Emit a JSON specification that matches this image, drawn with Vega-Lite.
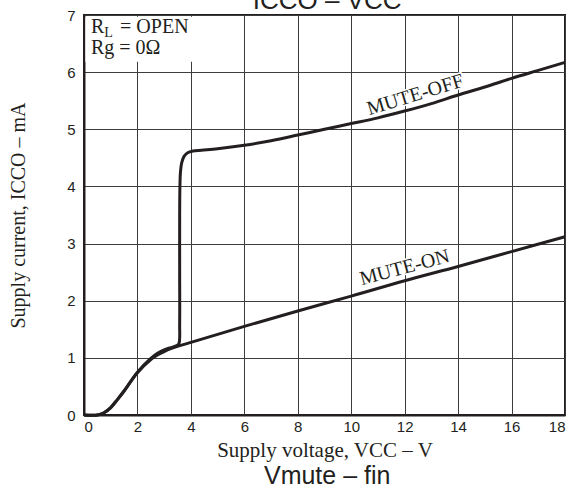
{
  "$schema": "https://vega.github.io/schema/vega-lite/v6.json",
  "autosize": {"type": "none"},
  "width": 481,
  "height": 400,
  "padding": {"left": 84, "top": 15, "right": 20, "bottom": 78},
  "background": "white",
  "config": {
    "view": {"stroke": "#231f20", "strokeWidth": 2},
    "axis": {
      "grid": true,
      "gridColor": "#3c3c3c",
      "gridOpacity": 1,
      "gridWidth": 1,
      "domain": true,
      "domainColor": "#231f20",
      "domainWidth": 2,
      "ticks": false,
      "format": "d",
      "labelFont": "Liberation Sans",
      "labelFontSize": 15,
      "labelColor": "#231f20",
      "titleFont": "Liberation Serif",
      "titleFontWeight": "normal",
      "titleColor": "#231f20"
    }
  },
  "datasets": {
    "curves": [
      {"series": "MUTE-ON", "o": 1, "v": 0, "i": 0},
      {"series": "MUTE-ON", "o": 2, "v": 0.5, "i": 0},
      {"series": "MUTE-ON", "o": 3, "v": 0.75, "i": 0.04},
      {"series": "MUTE-ON", "o": 4, "v": 1, "i": 0.13},
      {"series": "MUTE-ON", "o": 5, "v": 1.25, "i": 0.27},
      {"series": "MUTE-ON", "o": 6, "v": 1.5, "i": 0.42},
      {"series": "MUTE-ON", "o": 7, "v": 2, "i": 0.74},
      {"series": "MUTE-ON", "o": 8, "v": 2.5, "i": 0.97},
      {"series": "MUTE-ON", "o": 9, "v": 2.75, "i": 1.05},
      {"series": "MUTE-ON", "o": 10, "v": 3, "i": 1.11},
      {"series": "MUTE-ON", "o": 11, "v": 3.25, "i": 1.16},
      {"series": "MUTE-ON", "o": 12, "v": 3.5, "i": 1.2},
      {"series": "MUTE-ON", "o": 13, "v": 4, "i": 1.27},
      {"series": "MUTE-ON", "o": 14, "v": 6, "i": 1.55},
      {"series": "MUTE-ON", "o": 15, "v": 8, "i": 1.82},
      {"series": "MUTE-ON", "o": 16, "v": 10, "i": 2.08},
      {"series": "MUTE-ON", "o": 17, "v": 12, "i": 2.35},
      {"series": "MUTE-ON", "o": 18, "v": 14, "i": 2.6},
      {"series": "MUTE-ON", "o": 19, "v": 16, "i": 2.86},
      {"series": "MUTE-ON", "o": 20, "v": 18, "i": 3.12},
      {"series": "MUTE-OFF", "o": 1, "v": 0, "i": 0},
      {"series": "MUTE-OFF", "o": 2, "v": 0.5, "i": 0},
      {"series": "MUTE-OFF", "o": 3, "v": 0.75, "i": 0.04},
      {"series": "MUTE-OFF", "o": 4, "v": 1, "i": 0.13},
      {"series": "MUTE-OFF", "o": 5, "v": 1.25, "i": 0.27},
      {"series": "MUTE-OFF", "o": 6, "v": 1.5, "i": 0.42},
      {"series": "MUTE-OFF", "o": 7, "v": 2, "i": 0.75},
      {"series": "MUTE-OFF", "o": 8, "v": 2.5, "i": 0.99},
      {"series": "MUTE-OFF", "o": 9, "v": 2.75, "i": 1.08},
      {"series": "MUTE-OFF", "o": 10, "v": 3, "i": 1.14},
      {"series": "MUTE-OFF", "o": 11, "v": 3.25, "i": 1.18},
      {"series": "MUTE-OFF", "o": 12, "v": 3.5, "i": 1.22},
      {"series": "MUTE-OFF", "o": 13, "v": 3.56, "i": 1.26},
      {"series": "MUTE-OFF", "o": 14, "v": 3.58, "i": 1.6},
      {"series": "MUTE-OFF", "o": 15, "v": 3.58, "i": 2.5},
      {"series": "MUTE-OFF", "o": 16, "v": 3.58, "i": 3.5},
      {"series": "MUTE-OFF", "o": 17, "v": 3.59, "i": 4.0},
      {"series": "MUTE-OFF", "o": 18, "v": 3.61, "i": 4.25},
      {"series": "MUTE-OFF", "o": 19, "v": 3.66, "i": 4.42},
      {"series": "MUTE-OFF", "o": 20, "v": 3.75, "i": 4.53},
      {"series": "MUTE-OFF", "o": 21, "v": 3.88, "i": 4.59},
      {"series": "MUTE-OFF", "o": 22, "v": 4.08, "i": 4.62},
      {"series": "MUTE-OFF", "o": 23, "v": 4.4, "i": 4.635},
      {"series": "MUTE-OFF", "o": 24, "v": 5, "i": 4.66},
      {"series": "MUTE-OFF", "o": 25, "v": 6, "i": 4.72},
      {"series": "MUTE-OFF", "o": 26, "v": 7, "i": 4.8},
      {"series": "MUTE-OFF", "o": 27, "v": 8, "i": 4.9},
      {"series": "MUTE-OFF", "o": 28, "v": 9, "i": 5.0},
      {"series": "MUTE-OFF", "o": 29, "v": 10, "i": 5.1},
      {"series": "MUTE-OFF", "o": 30, "v": 11, "i": 5.2},
      {"series": "MUTE-OFF", "o": 31, "v": 12, "i": 5.32},
      {"series": "MUTE-OFF", "o": 32, "v": 13, "i": 5.45},
      {"series": "MUTE-OFF", "o": 33, "v": 14, "i": 5.6},
      {"series": "MUTE-OFF", "o": 34, "v": 15, "i": 5.74},
      {"series": "MUTE-OFF", "o": 35, "v": 16, "i": 5.89},
      {"series": "MUTE-OFF", "o": 36, "v": 17, "i": 6.03},
      {"series": "MUTE-OFF", "o": 37, "v": 18, "i": 6.17}
    ],
    "labels": [
      {"label": "MUTE-OFF", "v": 12.4, "i": 5.6},
      {"label": "MUTE-ON", "v": 12.0, "i": 2.58}
    ],
    "one": [{}]
  },
  "layer": [
    {
      "data": {"name": "one"},
      "mark": {"type": "rect", "color": "white"},
      "encoding": {
        "x": {"datum": 0.05, "type": "quantitative", "scale": {"domain": [0, 18], "nice": false}},
        "x2": {"datum": 4.2},
        "y": {"datum": 6.18, "type": "quantitative", "scale": {"domain": [0, 7], "nice": false}},
        "y2": {"datum": 6.97}
      }
    },
    {
      "data": {"name": "curves"},
      "mark": {"type": "line", "color": "#231f20", "strokeWidth": 3, "interpolate": "catmull-rom", "clip": false},
      "encoding": {
        "x": {
          "field": "v", "type": "quantitative",
          "scale": {"domain": [0, 18], "nice": false, "zero": false},
          "axis": {"values": [0, 2, 4, 6, 8, 10, 12, 14, 16, 18], "labelPadding": 4, "title": "Supply voltage, VCC  –  V", "titleFontSize": 21, "titlePadding": 5}
        },
        "y": {
          "field": "i", "type": "quantitative",
          "scale": {"domain": [0, 7], "nice": false},
          "axis": {"values": [0, 1, 2, 3, 4, 5, 6, 7], "labelPadding": 9, "title": "Supply current, ICCO  –  mA", "titleFontSize": 20, "titlePadding": 38}
        },
        "detail": {"field": "series"},
        "order": {"field": "o", "type": "quantitative"}
      }
    },
    {
      "data": {"name": "labels"},
      "transform": [{"filter": "datum.label === 'MUTE-OFF'"}],
      "mark": {"type": "text", "font": "Liberation Serif", "fontSize": 20, "angle": -17, "color": "white", "stroke": "white", "strokeWidth": 3, "align": "center", "baseline": "middle"},
      "encoding": {"x": {"field": "v", "type": "quantitative"}, "y": {"field": "i", "type": "quantitative"}, "text": {"field": "label"}}
    },
    {
      "data": {"name": "labels"},
      "transform": [{"filter": "datum.label === 'MUTE-OFF'"}],
      "mark": {"type": "text", "font": "Liberation Serif", "fontSize": 20, "angle": -17, "color": "#231f20", "align": "center", "baseline": "middle"},
      "encoding": {"x": {"field": "v", "type": "quantitative"}, "y": {"field": "i", "type": "quantitative"}, "text": {"field": "label"}}
    },
    {
      "data": {"name": "labels"},
      "transform": [{"filter": "datum.label === 'MUTE-ON'"}],
      "mark": {"type": "text", "font": "Liberation Serif", "fontSize": 20, "angle": -15, "color": "white", "stroke": "white", "strokeWidth": 3, "align": "center", "baseline": "middle"},
      "encoding": {"x": {"field": "v", "type": "quantitative"}, "y": {"field": "i", "type": "quantitative"}, "text": {"field": "label"}}
    },
    {
      "data": {"name": "labels"},
      "transform": [{"filter": "datum.label === 'MUTE-ON'"}],
      "mark": {"type": "text", "font": "Liberation Serif", "fontSize": 20, "angle": -15, "color": "#231f20", "align": "center", "baseline": "middle"},
      "encoding": {"x": {"field": "v", "type": "quantitative"}, "y": {"field": "i", "type": "quantitative"}, "text": {"field": "label"}}
    },
    {
      "data": {"name": "one"},
      "mark": {"type": "text", "font": "Liberation Serif", "fontSize": 20, "color": "#231f20", "align": "left", "baseline": "alphabetic"},
      "encoding": {"x": {"datum": 0.26}, "y": {"datum": 6.69}, "text": {"value": "R"}}
    },
    {
      "data": {"name": "one"},
      "mark": {"type": "text", "font": "Liberation Serif", "fontSize": 14, "color": "#231f20", "align": "left", "baseline": "alphabetic"},
      "encoding": {"x": {"datum": 0.76}, "y": {"datum": 6.61}, "text": {"value": "L"}}
    },
    {
      "data": {"name": "one"},
      "mark": {"type": "text", "font": "Liberation Serif", "fontSize": 20, "color": "#231f20", "align": "left", "baseline": "alphabetic"},
      "encoding": {"x": {"datum": 1.35}, "y": {"datum": 6.69}, "text": {"value": "= OPEN"}}
    },
    {
      "data": {"name": "one"},
      "mark": {"type": "text", "font": "Liberation Serif", "fontSize": 20, "color": "#231f20", "align": "left", "baseline": "alphabetic"},
      "encoding": {"x": {"datum": 0.26}, "y": {"datum": 6.31}, "text": {"value": "Rg = 0Ω"}}
    },
    {
      "data": {"name": "one"},
      "mark": {"type": "text", "font": "Liberation Sans", "fontSize": 26, "color": "#231f20", "align": "center", "baseline": "alphabetic", "clip": false},
      "encoding": {"x": {"datum": 9.1}, "y": {"datum": 7.1}, "text": {"value": "ICCO  –  VCC"}}
    },
    {
      "data": {"name": "one"},
      "mark": {"type": "text", "font": "Liberation Sans", "fontSize": 25, "color": "#231f20", "align": "center", "baseline": "alphabetic", "clip": false},
      "encoding": {"x": {"datum": 9.1}, "y": {"datum": -1.2}, "text": {"value": "Vmute  –  fin"}}
    }
  ]
}
